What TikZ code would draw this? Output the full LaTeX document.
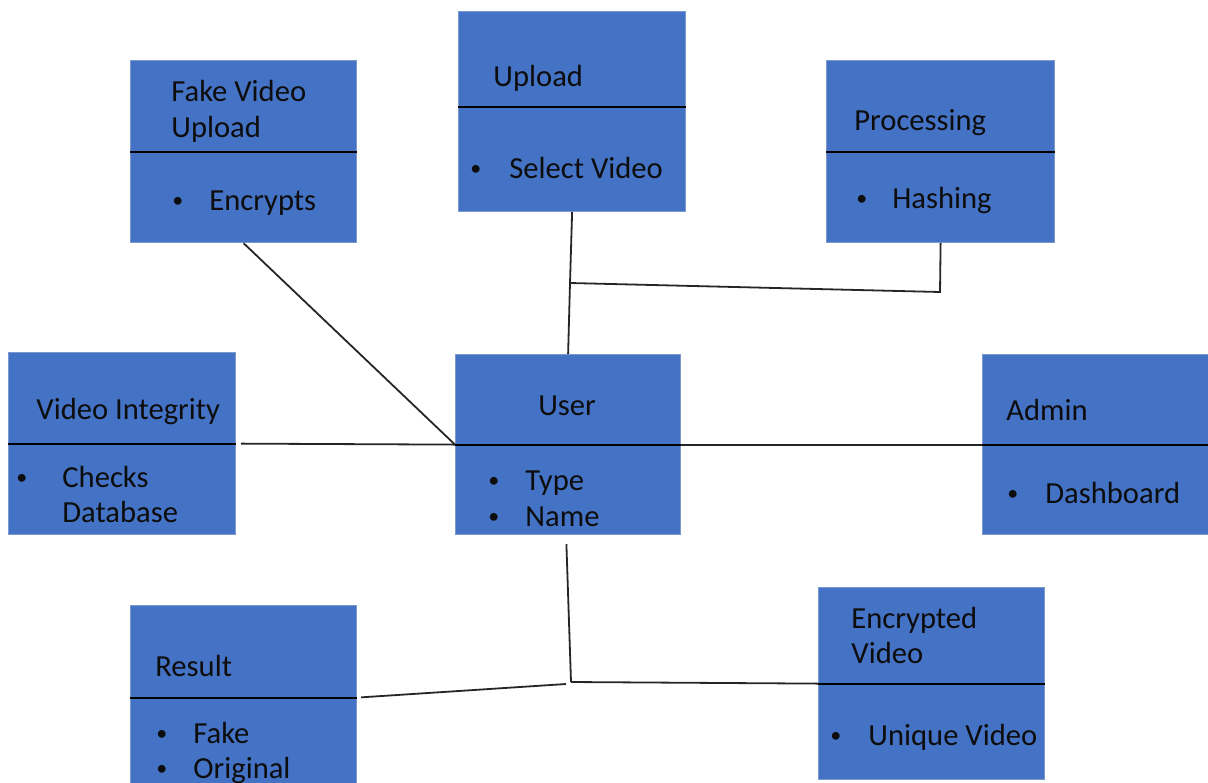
\documentclass[tikz,border=0pt]{standalone}
\usepackage{fontspec}
\setmainfont{Carlito}
\usetikzlibrary{calc}
\definecolor{boxblue}{HTML}{4472C4}
\definecolor{boxedge}{HTML}{7B98CF}
\definecolor{txt}{HTML}{0D0D0D}
\tikzset{
  umlbox/.style={rectangle, fill=boxblue, draw=boxedge, line width=0.6pt, inner sep=0pt, anchor=north west},
  divider/.style={draw=black, line width=1pt},
  conn/.style={draw=black!85, line width=0.9pt},
  lbl/.style={inner sep=0pt, anchor=base west, text=txt, font=\fontsize{15.3}{18}\selectfont},
  bul/.style={inner sep=0pt, anchor=base west, text=txt, font=\fontsize{11}{13}\selectfont},
}
\newcommand{\bulletmark}{\raisebox{1.4pt}{•}}
\begin{document}
\begin{tikzpicture}[x=0.5pt,y=-0.5pt]
\useasboundingbox (0,0) rectangle (1208,782);
\clip (0,0) rectangle (1208,782);
% boxes
\node[umlbox, minimum width=226*0.5pt, minimum height=182*0.5pt] (fake) at (130,60) {};
\node[umlbox, minimum width=227*0.5pt, minimum height=200*0.5pt] (up) at (458,11) {};
\node[umlbox, minimum width=228*0.5pt, minimum height=182*0.5pt] (proc) at (826,60) {};
\node[umlbox, minimum width=227*0.5pt, minimum height=182*0.5pt] (vi) at (8,352) {};
\node[umlbox, minimum width=225*0.5pt, minimum height=180*0.5pt] (user) at (455,354) {};
\node[umlbox, minimum width=240*0.5pt, minimum height=180*0.5pt] (admin) at (982,354) {};
\node[umlbox, minimum width=226*0.5pt, minimum height=184*0.5pt] (res) at (130,605) {};
\node[umlbox, minimum width=226*0.5pt, minimum height=192*0.5pt] (enc) at (818,587) {};
% dividers
\draw[divider] (fake.west) -- (fake.east);
\draw[divider] (up.west |- 0,107) -- (up.east |- 0,107);
\draw[divider] (proc.west) -- (proc.east);
\draw[divider] (vi.west) -- (vi.east);
\draw[divider] (user.west) -- (user.east);
\draw[divider] (admin.west) -- (admin.east);
\draw[divider] (res.west) -- (res.east);
\draw[divider] (enc.west) -- (enc.east);
% texts
\node[lbl] (fake1) at (171,101) {Fake Video};
\node[lbl] (fake2) at (171,137) {Upload};
\node[bul] (fakeb) at (172,210) {\bulletmark};
\node[lbl] (fake3) at (209,210) {Encrypts};

\node[lbl] (up1) at (493,86) {Upload};
\node[bul] (upb) at (470,178) {\bulletmark};
\node[lbl] (up2) at (509,178) {Select Video};

\node[lbl] (proc1) at (854,130) {Processing};
\node[bul] (procb) at (856,208) {\bulletmark};
\node[lbl] (proc2) at (892,208) {Hashing};

\node[lbl] (vi1) at (36,419) {Video Integrity};
\node[bul] (vib) at (16,487) {\bulletmark};
\node[lbl] (vi2) at (62,487) {Checks};
\node[lbl] (vi3) at (62,522) {Database};

\node[lbl, anchor=base] (user1) at (567,415) {User};
\node[bul] (userb1) at (488,490) {\bulletmark};
\node[lbl] (user2) at (525,490) {Type};
\node[bul] (userb2) at (488,526) {\bulletmark};
\node[lbl] (user3) at (525,526) {Name};

\node[lbl] (admin1) at (1006,420) {Admin};
\node[bul] (adminb) at (1007,503) {\bulletmark};
\node[lbl] (admin2) at (1045,503) {Dashboard};

\node[lbl] (res1) at (155,676) {Result};
\node[bul] (resb1) at (156,743) {\bulletmark};
\node[lbl] (res2) at (193,743) {Fake};
\node[bul] (resb2) at (156,778) {\bulletmark};
\node[lbl] (res3) at (193,778) {Original};

\node[lbl] (enc1) at (851,628) {Encrypted};
\node[lbl] (enc2) at (851,663) {Video};
\node[bul] (encb) at (830,745) {\bulletmark};
\node[lbl] (enc3) at (868,745) {Unique Video};
% junctions
\coordinate (j1) at (570,283);
\coordinate (pc) at (940,292);
\coordinate (j2) at (571,682);
\coordinate (j2b) at (566,684);
% connectors
\draw[conn] (fake.south) -- (user.west);
\draw[conn] (up.south) -- (j1) -- (user.north);
\draw[conn] (j1) -- (pc) -- (proc.south);
\draw[conn, shorten <=2.5pt] (vi.east) -- (user.west);
\draw[conn] (user.east) -- (admin.west);
\draw[conn, shorten <=4.5pt] ($(user.south)+(-2,0)$) -- (j2);
\draw[conn] (j2) -- (enc.west);
\draw[conn, shorten >=2pt] (j2b) -- (res.east);
\end{tikzpicture}
\end{document}
